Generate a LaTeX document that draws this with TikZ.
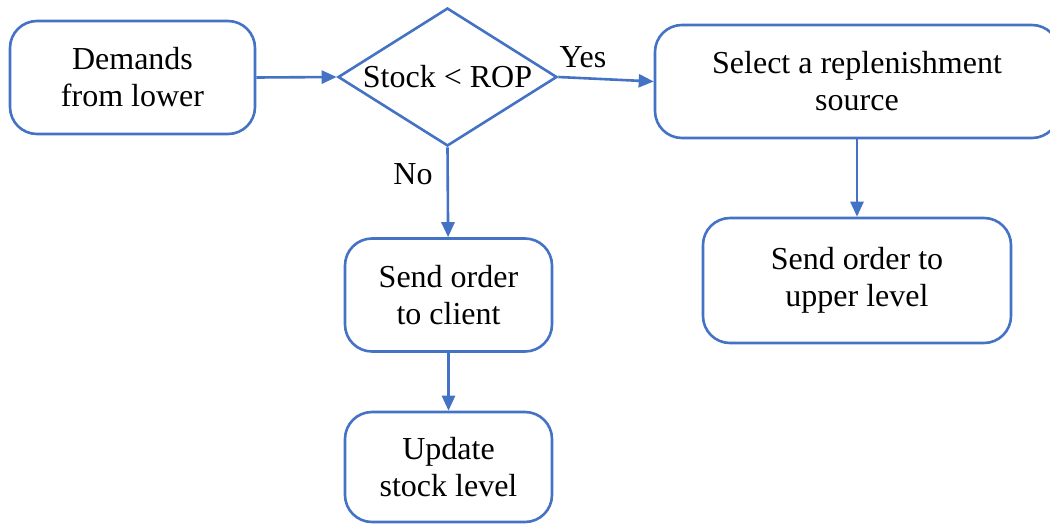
\documentclass[tikz,border=0pt]{standalone}
\usepackage{fontspec}
\setmainfont{Liberation Serif}
\usetikzlibrary{shapes.geometric,arrows.meta}
\definecolor{flowblue}{HTML}{4472C4}

\begin{document}
\begin{tikzpicture}[x=1pt,y=-1pt,
    box/.style={draw=flowblue,line width=2.6pt,rounded corners=27pt,align=center,
      font=\fontsize{32}{37}\selectfont,inner sep=0pt},
    decide/.style={draw=flowblue,line width=2.6pt,diamond,inner sep=0pt},
    flow/.style={draw=flowblue,line width=2.6pt,-{Triangle[length=15pt,width=13pt]}},
    lbl/.style={font=\fontsize{32}{37}\selectfont}]

    \useasboundingbox (0,0) rectangle (1050,525);
    \clip (0,0) rectangle (1050,525);

    \node[box,minimum width=245pt,minimum height=113pt] (dem) at (132.5,77.5) {Demands\\from lower};
    \node[decide,minimum width=219pt,minimum height=138pt,
      label={[lbl]center:Stock < ROP}] (dec) at (447.5,77) {};
    \node[box,minimum width=404pt,minimum height=113pt] (sel) at (857,81.5) {Select a replenishment\\source};
    \node[box,minimum width=207pt,minimum height=113pt] (cli) at (448.5,295) {Send order\\to client};
    \node[box,minimum width=207pt,minimum height=110pt] (upd) at (448.5,467) {Update\\stock level};
    \node[box,minimum width=308pt,minimum height=125pt] (upp) at (857,280.5) {Send order to\\upper level};

    \draw[flow] (dem.east) -- (dec.west);
    \draw[flow] (dec.east) -- (sel.west);
    \draw[flow] (dec.south) -- (cli);
    \draw[flow] (cli) -- (upd);
    \draw[flow] (sel.south -| upp.north) -- (upp.north);

    \node[lbl] (yes) at (583,57) {Yes};
    \node[lbl] (no) at (413,174) {No};

  \end{tikzpicture}
\end{document}
